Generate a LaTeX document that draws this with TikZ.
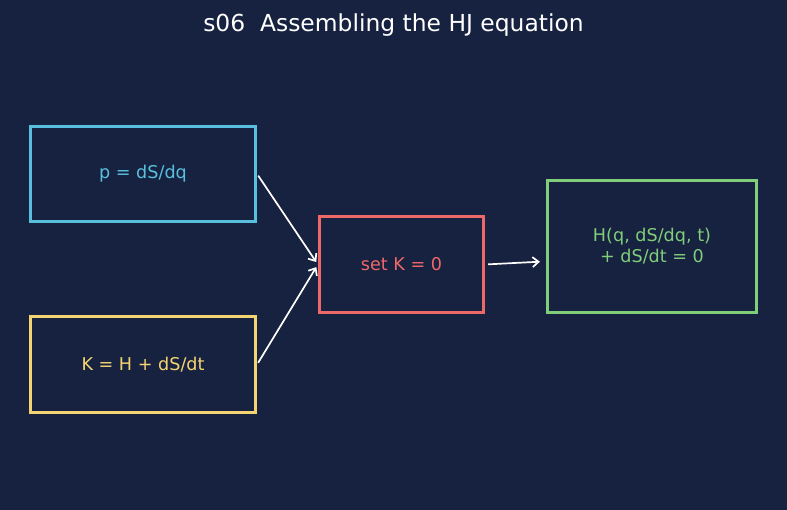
\documentclass[tikz,border=0pt]{standalone}
\usepackage{fontspec}
\setmainfont{DejaVu Sans}
\usetikzlibrary{positioning, arrows.meta}
\definecolor{bgnavy}{RGB}{23, 33, 64}
\definecolor{skyblue}{RGB}{88, 192, 222}
\definecolor{sandyellow}{RGB}{244, 212, 114}
\definecolor{coralred}{RGB}{238, 104, 106}
\definecolor{leafgreen}{RGB}{128, 206, 122}

\begin{document}
\begin{tikzpicture}[
    x=1pt, y=1pt,
    box/.style={rectangle, draw, line width=3.2pt, align=center, font=\fontsize{17.6}{21}\selectfont, inner sep=0pt},
    arrow/.style={-{Straight Barb[length=6pt, width=10pt]}, white, line width=1.7pt},
    title/.style={font=\fontsize{23.4}{28}\selectfont, text=white}
]
    % Background
    \fill[bgnavy] (0,0) rectangle (787,510);
    \useasboundingbox (0,0) rectangle (787,510);

    % Title
    \node[title] (head) at (393.5,485) {s06\ \ Assembling the HJ equation};

    % Inputs
    \node[box, draw=skyblue, text=skyblue, minimum width=225pt, minimum height=95pt] (momentum) at (143,336) {p = dS/dq};
    \node[box, draw=sandyellow, text=sandyellow, minimum width=225pt, minimum height=96pt] (newham) at (143,145.5) {K = H + dS/dt};

    % Condition
    \node[box, draw=coralred, text=coralred, minimum width=164pt, minimum height=96pt] (setk) at (401.5,245.5) {set K = 0};

    % Result
    \node[box, draw=leafgreen, text=leafgreen, minimum width=209pt, minimum height=132pt] (hjeq) at (652,263.5) {H(q, dS/dq, t)\\+ dS/dt = 0};

    % Arrows
    \draw[arrow, shorten <=2pt, shorten >=3pt] (momentum.east) -- (setk.west);
    \draw[arrow, shorten <=2pt, shorten >=3pt] (newham.east) -- (setk.west);
    \draw[arrow, shorten <=3pt, shorten >=6pt] (setk.east) -- (hjeq.188);
\end{tikzpicture}
\end{document}
